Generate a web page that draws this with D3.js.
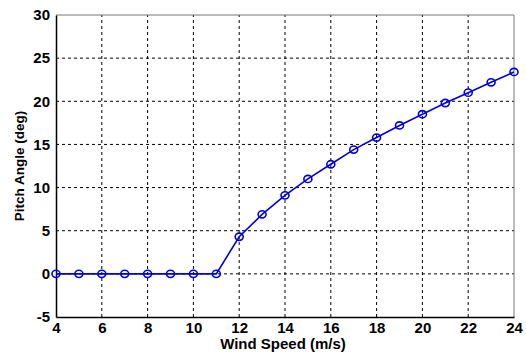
<!DOCTYPE html>
<html><head><meta charset="utf-8">
<script src="https://cdn.jsdelivr.net/npm/d3@7"></script>
<style>body{margin:0;background:#fff}svg{display:block}</style>
</head><body>
<script>
const windSpeed = [4,5,6,7,8,9,10,11,12,13,14,15,16,17,18,19,20,21,22,23,24];
const pitchAngle = [0,0,0,0,0,0,0,0,4.3,6.9,9.1,11.0,12.7,14.4,15.8,17.2,18.5,19.8,21.0,22.2,23.4];
const xTicks = [4,6,8,10,12,14,16,18,20,22,24];
const yTicks = [-5,0,5,10,15,20,25,30];

const W = 526, H = 359;
const m = {l:56, r:12, t:15, b:42};
const svg = d3.select("body").append("svg").attr("width",W).attr("height",H);
const x = d3.scaleLinear().domain([4,24]).range([m.l, W-m.r]);
const y = d3.scaleLinear().domain([-5,30]).range([H-m.b, m.t]);
const font = "'Liberation Sans', Arial, sans-serif";

// grid
const g = svg.append("g");
g.selectAll(".vx").data(xTicks.slice(1,-1)).enter().append("line")
  .attr("x1",d=>x(d)).attr("x2",d=>x(d)).attr("y1",y(-5)).attr("y2",y(30))
  .attr("stroke","#000").attr("stroke-width",1).attr("stroke-dasharray","3,3");
g.selectAll(".hy").data(yTicks.slice(1,-1)).enter().append("line")
  .attr("y1",d=>y(d)).attr("y2",d=>y(d)).attr("x1",x(4)).attr("x2",x(24))
  .attr("stroke","#000").attr("stroke-width",1).attr("stroke-dasharray","3,3");

// box
svg.append("line").attr("x1",x(4)).attr("x2",x(24)).attr("y1",y(30)).attr("y2",y(30)).attr("stroke","#777");
svg.append("line").attr("x1",x(24)).attr("x2",x(24)).attr("y1",y(30)).attr("y2",y(-5)).attr("stroke","#777");

const fmt = d => String(d);
const xa = svg.append("g").attr("transform",`translate(0,${y(-5)})`)
  .call(d3.axisBottom(x).tickValues(xTicks).tickFormat(fmt).tickSize(0).tickPadding(5));
const ya = svg.append("g").attr("transform",`translate(${x(4)},0)`)
  .call(d3.axisLeft(y).tickValues(yTicks).tickFormat(fmt).tickSize(0).tickPadding(6));
[xa,ya].forEach(a=>{
  a.select(".domain").attr("stroke","#000").attr("stroke-width",1.5);
  a.selectAll("text").attr("font-family",font).attr("font-weight","bold").attr("font-size",15).attr("fill","#000");
});

// line
const pts = windSpeed.map((d,i)=>[d,pitchAngle[i]]);
svg.append("path").datum(pts)
  .attr("d", d3.line().x(d=>x(d[0])).y(d=>y(d[1])))
  .attr("fill","none").attr("stroke","#0000dd").attr("stroke-width",1.6);
svg.selectAll(".pt").data(pts).enter().append("ellipse")
  .attr("cx",d=>x(d[0])).attr("cy",d=>y(d[1])).attr("rx",4).attr("ry",3.6)
  .attr("fill","none").attr("stroke","#0000dd").attr("stroke-width",1.6);

// labels
svg.append("text").attr("x",283).attr("y",349).attr("text-anchor","middle")
  .attr("font-family",font).attr("font-weight","bold").attr("font-size",15).text("Wind Speed (m/s)");
svg.append("text").attr("transform",`translate(24,${(y(-5)+y(30))/2}) rotate(-90)`).attr("text-anchor","middle")
  .attr("font-family",font).attr("font-weight","bold").attr("font-size",13.5).text("Pitch Angle (deg)");
</script>
</body></html>
